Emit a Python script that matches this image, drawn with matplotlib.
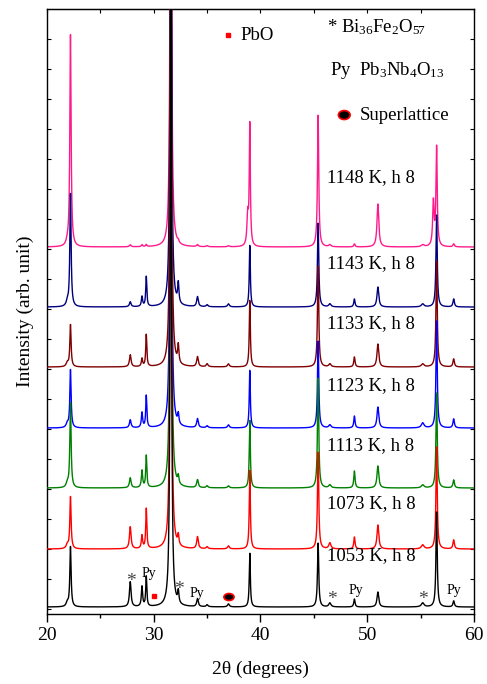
import matplotlib
matplotlib.use("Agg")
import matplotlib.pyplot as plt
from matplotlib.patches import Ellipse
from matplotlib.ticker import MultipleLocator, FixedLocator, NullFormatter
import numpy as np

plt.rcParams['font.family'] = ['Liberation Serif', 'DejaVu Serif']
plt.rcParams['mathtext.fontset'] = 'custom'
plt.rcParams['mathtext.rm'] = 'Liberation Serif'
plt.rcParams['mathtext.it'] = 'Liberation Serif:italic'

peak_pos = [21.9, 22.2, 27.8, 28.9, 29.3, 31.6, 32.3, 34.1, 35.0, 37.0,
            38.8, 39.0, 45.4, 46.5, 48.8, 51.0, 55.2, 56.2, 56.5, 58.1]
peak_hw = [0.12, 0.07, 0.09, 0.07, 0.06, 0.07, 0.07, 0.09, 0.1, 0.1,
           0.08, 0.06, 0.07, 0.12, 0.07, 0.1, 0.15, 0.08, 0.07, 0.08]

samples = ['1148 K, h 8', '1143 K, h 8', '1133 K, h 8', '1123 K, h 8',
           '1113 K, h 8', '1073 K, h 8', '1053 K, h 8']
colors = ['#ff1a8c', '#00007f', '#7f0000', '#0000ff', '#008000', '#ff0000', '#000000']
offsets = [367, 307, 247, 186, 126, 65, 7]

# peak heights for each sample (arb. units), same order as peak_pos
heights = [
    [3, 212, 2, 2, 2, 650, 2, 2, 1, 1, 30, 122, 132, 2, 3, 43, 2, 44, 99, 3],   # 1148
    [4, 113, 5, 10, 30, 650, 20, 10, 2, 3, 0, 62, 84, 3, 8, 20, 3, 0, 92, 8],   # 1143
    [4, 42, 12, 8, 32, 650, 18, 10, 3, 3, 0, 67, 101, 3, 10, 23, 3, 0, 106, 8],  # 1133
    [4, 58, 8, 15, 32, 650, 10, 9, 2, 3, 0, 58, 87, 3, 12, 21, 5, 0, 107, 9],   # 1123
    [4, 85, 10, 17, 32, 650, 8, 8, 2, 2, 0, 68, 110, 3, 17, 22, 3, 0, 95, 8],   # 1113
    [4, 52, 22, 13, 40, 650, 10, 12, 2, 3, 0, 79, 97, 6, 12, 24, 4, 0, 102, 9],  # 1073
    [4, 60, 25, 20, 30, 650, 12, 8, 2, 3, 0, 54, 64, 4, 8, 15, 4, 0, 95, 6],    # 1053
]

# phase marks on the 1053 K pattern
mark_text = ['*', 'Py', '*', 'Py', '*', 'Py', '*', 'Py']
mark_x = [27.87, 29.55, 32.37, 34.05, 46.7, 48.95, 55.22, 58.13]
mark_y = [33, 41, 25, 21, 15, 24, 15, 24]
pbo_x, pbo_y = 30.02, 18
sl_x, sl_y = 37.05, 17

tt = np.linspace(20, 60, 4000)


def pattern(h):
    y = np.zeros_like(tt)
    for p, w, a in zip(peak_pos, peak_hw, h):
        y += a * w**2 / (w**2 + (tt - p)**2)
    return y


fig = plt.figure(figsize=(4.87, 6.84), dpi=100)
ax = fig.add_axes([0.0965, 0.1023, 0.8767, 0.8845])

for i, (h, c, off) in enumerate(zip(heights, colors, offsets)):
    ax.plot(tt, off + pattern(h), color=c, lw=1.0, zorder=2 + i)

lab_y = [436, 350, 290, 228, 168, 110, 58]
for s, ly in zip(samples, lab_y):
    ax.text(46.25, ly, s, fontsize=13.5, va='center', ha='left', zorder=20)

# phase legend
ax.plot([36.96], [579], 's', color='red', ms=2.5, zorder=20)
ax.text(38.1, 579, 'PbO', fontsize=13.5, va='center')
ax.text(46.2, 587, r'* Bi$_{36}$Fe$_{2}$O$_{57}$', fontsize=13.5, va='center')
ax.text(46.5, 544, r'Py  Pb$_{3}$Nb$_{4}$O$_{13}$', fontsize=13.5, va='center')
ax.add_patch(Ellipse((47.85, 499), 1.1, 9, fc='black', ec='red', lw=1.2, zorder=20))
ax.text(49.3, 499, 'Superlattice', fontsize=13.5, va='center')

for t, x, y in zip(mark_text, mark_x, mark_y):
    if t == '*':
        ax.text(x, y, t, fontsize=14, color='#444444', ha='center', va='center', zorder=20)
    else:
        ax.text(x, y, t, fontsize=10, ha='center', va='center', zorder=20)
ax.plot([pbo_x], [pbo_y], 's', color='red', ms=3, zorder=20)
ax.add_patch(Ellipse((sl_x, sl_y), 0.95, 7, fc='black', ec='red', lw=1.2, zorder=20))

ymax = 605
ax.set_xlim(20, 60)
ax.set_ylim(0, ymax)
ax.xaxis.set_major_locator(MultipleLocator(10))
ax.xaxis.set_minor_locator(MultipleLocator(5))
ax.yaxis.set_major_locator(FixedLocator(np.arange(ymax - 30, 0, -30)))
ax.yaxis.set_major_formatter(NullFormatter())
ax.tick_params(axis='x', which='both', direction='out', top=False, labelsize=14)
ax.tick_params(axis='x', which='major', length=6, width=1)
ax.tick_params(axis='x', which='minor', length=3, width=1)
ax.tick_params(axis='y', which='major', direction='in', left=True, right=True, length=3)
sec = ax.secondary_xaxis('top')
sec.xaxis.set_major_locator(MultipleLocator(5))
sec.tick_params(direction='in', length=3, labeltop=False)
for sp in ax.spines.values():
    sp.set_linewidth(1.0)

ax.set_xlabel('2θ (degrees)', fontsize=14, labelpad=12)
ax.set_ylabel('Intensity (arb. unit)', fontsize=14, labelpad=6)

fig.savefig('out.png', dpi=100)
